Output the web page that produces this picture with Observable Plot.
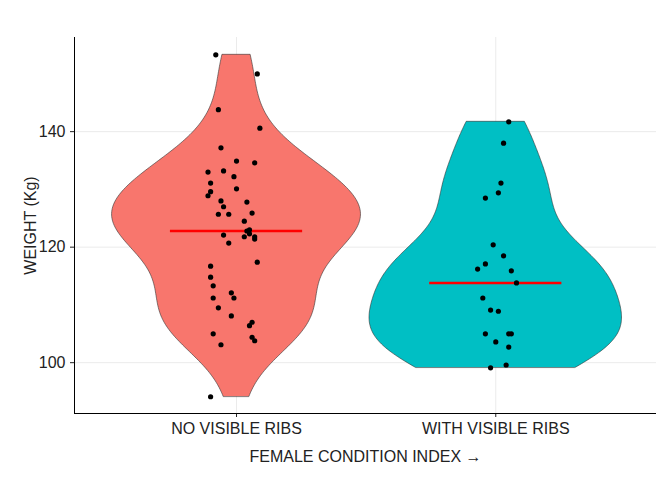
<!DOCTYPE html>
<html>
<head>
<meta charset="utf-8">
<script src="https://cdn.jsdelivr.net/npm/d3@7"></script>
<script src="https://cdn.jsdelivr.net/npm/@observablehq/plot@0.6"></script>
<style>
body { margin: 0; background: #fff; }
</style>
</head>
<body>
<div id="chart"></div>
<script>
const categories = ["NO VISIBLE RIBS", "WITH VISIBLE RIBS"];
const fills = ["#F8766D", "#00BFC4"];

// weights per group, and horizontal jitter (in category units)
const noRibsWeight = [153.3, 150.0, 143.8, 140.6, 137.2, 134.9, 134.6, 133.0, 133.2, 132.2, 131.1, 130.1, 129.6, 128.9, 128.0, 127.8, 127.0, 125.7, 125.7, 125.9, 124.5, 122.8, 123.0, 122.3, 122.1, 121.8, 121.8, 121.4, 120.7, 117.4, 116.7, 114.8, 113.3, 112.1, 111.2, 111.2, 109.5, 108.1, 107.0, 106.4, 105.0, 104.4, 103.8, 103.1, 94.1];
const noRibsJitter = [-0.08, 0.08, -0.07, 0.09, -0.06, 0.00, 0.07, -0.11, -0.05, -0.01, -0.10, 0.00, -0.10, -0.11, -0.06, 0.04, -0.05, -0.07, -0.03, 0.06, 0.03, 0.04, 0.05, 0.05, -0.05, 0.03, 0.07, 0.07, -0.03, 0.08, -0.10, -0.10, -0.09, -0.02, -0.09, -0.01, -0.07, -0.02, 0.06, 0.05, -0.09, 0.06, 0.07, -0.06, -0.10];
const ribsWeight = [141.7, 138.0, 131.1, 129.4, 128.5, 120.4, 118.5, 117.1, 116.2, 115.9, 113.8, 111.2, 109.1, 108.9, 105.0, 105.0, 105.0, 103.6, 102.7, 99.1, 99.6];
const ribsJitter = [0.05, 0.03, 0.02, 0.01, -0.04, -0.01, 0.03, -0.04, -0.07, 0.06, 0.08, -0.05, -0.02, 0.01, -0.04, 0.05, 0.06, 0.00, 0.05, -0.02, 0.04];

const groups = [noRibsWeight, ribsWeight];
const jitters = [noRibsJitter, ribsJitter];

const points = groups.flatMap((g, i) => g.map((w, j) => ({x: i + 1 + jitters[i][j], w})));
const medians = groups.map((g, i) => ({c: i + 1, m: d3.median(g)}));

// gaussian kde, bw.nrd0 like R
function kde(values) {
  const n = values.length;
  const sd = d3.deviation(values);
  const iqr = d3.quantile(values.slice().sort(d3.ascending), 0.75) - d3.quantile(values.slice().sort(d3.ascending), 0.25);
  const bw = 0.9 * Math.min(sd, iqr / 1.34) * Math.pow(n, -0.2);
  const [lo, hi] = d3.extent(values);
  return d3.range(0, 201).map(k => {
    const y = lo + (hi - lo) * k / 200;
    const d = d3.sum(values, v => Math.exp(-0.5 * ((y - v) / bw) ** 2)) / (n * bw * Math.sqrt(2 * Math.PI));
    return {y, d};
  });
}
const dens = groups.map(kde);
const maxD = d3.max(dens.flat(), d => d.d);
const violins = dens.flatMap((ds, i) => ds.map(p => ({g: i, y: p.y, x1: i + 1 - 0.487 * p.d / maxD, x2: i + 1 + 0.487 * p.d / maxD})));

const chart = Plot.plot({
  width: 672,
  height: 480,
  marginLeft: 74,
  marginTop: 37,
  marginBottom: 67,
  marginRight: 16,
  style: {fontFamily: "Liberation Sans, Arial, sans-serif", fontSize: "12px", color: "#222"},
  x: {domain: [0.375, 2.62], ticks: [1, 2], tickFormat: d => categories[d - 1], label: "FEMALE CONDITION INDEX", labelAnchor: "center", labelOffset: 48, tickSize: 4},
  y: {domain: [91.2, 156.3], ticks: [100, 120, 140], label: "WEIGHT (Kg)", labelAnchor: "center", labelOffset: 50, tickSize: 4},
  marks: [
    Plot.gridX([1, 2], {stroke: "#ebebeb", strokeOpacity: 1}),
    Plot.gridY([100, 120, 140], {stroke: "#ebebeb", strokeOpacity: 1}),
    Plot.areaX(violins, {y: "y", x1: "x1", x2: "x2", z: "g", fill: d => fills[d.g], stroke: "#333", strokeWidth: 0.6}),
    Plot.ruleY(medians, {y: "m", x1: d => d.c - 0.255, x2: d => d.c + 0.255, stroke: "red", strokeWidth: 2.5}),
    Plot.dot(points, {x: "x", y: "w", r: 2.6, fill: "black"}),
    Plot.axisX({ticks: [1, 2], tickFormat: d => categories[d - 1], label: "FEMALE CONDITION INDEX", labelAnchor: "center", labelOffset: 48, fontSize: 12, tickSize: 4}),
    Plot.axisY({ticks: [100, 120, 140], label: "WEIGHT (Kg)", labelAnchor: "center", labelArrow: "none", labelOffset: 50, fontSize: 12, tickSize: 4}),
    Plot.ruleX([0.375], {stroke: "black"}),
    Plot.ruleY([91.2], {stroke: "black"})
  ]
});
d3.select(chart).selectAll("[aria-label$='label'] text, [aria-label='x-axis label'], [aria-label='y-axis label']").style("font-size", "16px");
document.getElementById("chart").append(chart);
</script>
</body>
</html>
